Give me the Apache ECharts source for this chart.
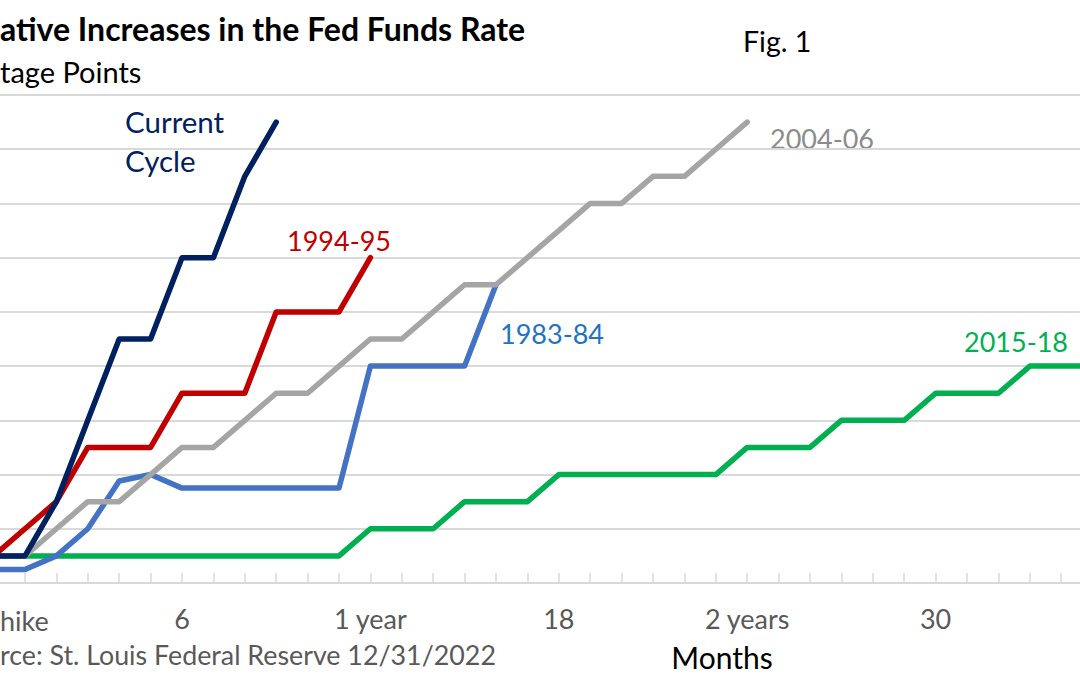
<!DOCTYPE html>
<html>
<head>
<meta charset="utf-8">
<script src="https://cdn.jsdelivr.net/npm/echarts@6/dist/echarts.min.js"></script>
<style>
  html, body { margin: 0; padding: 0; background: #ffffff; }
  #chart { width: 1080px; height: 675px; }
</style>
</head>
<body>
<div id="chart"></div>
<script>
// ---- Data (cumulative increase in percentage points, by month since first hike) ----
const seriesNames = ['2015-18', '1983-84', '2004-06', '1994-95', 'Current Cycle'];
const cycle2015 = [0.25,0.25,0.25,0.25,0.25,0.25,0.25,0.25,0.25,0.25,0.25,0.25,
                   0.5,0.5,0.5,0.75,0.75,0.75,1.0,1.0,1.0,1.0,1.0,1.0,
                   1.25,1.25,1.25,1.5,1.5,1.5,1.75,1.75,1.75,2.0,2.0,2.0,2.25];
const cycle1983 = [0.125,0.125,0.25,0.5,0.94,1.0,0.875,0.875,0.875,0.875,0.875,0.875,
                   2.0,2.0,2.0,2.0,2.75];
const cycle2004 = [0.25,0.25,0.5,0.75,0.75,1.0,1.25,1.25,1.5,1.75,1.75,2.0,
                   2.25,2.25,2.5,2.75,2.75,3.0,3.25,3.5,3.5,3.75,3.75,4.0,4.25];
const cycle1994 = [0.25,0.5,0.75,1.25,1.25,1.25,1.75,1.75,1.75,2.5,2.5,2.5,3.0];
const currentCycle = [0.25,0.25,0.75,1.5,2.25,2.25,3.0,3.0,3.75,4.25];

// x-axis tick labels (month -> label); month 0 label is shown cropped as in the reference
const tickLabels = { 0: 'hike', 6: '6', 12: '1 year', 18: '18', 24: '2 years', 30: '30' };

// Texts as visible in the (cropped) reference
const titleText = 'ative Increases in the Fed Funds Rate';
const subtitleText = 'tage Points';
const sourceText = 'rce: St. Louis Federal Reserve 12/31/2022';
const axisTitle = 'Months';
const figText = 'Fig. 1';

// ---- Styles ----
const FONT = 'Lato, "Open Sans", sans-serif';
const colors = {
  '2015-18': '#00B050',
  '1983-84': '#4472C4',
  '2004-06': '#A5A5A5',
  '1994-95': '#C00000',
  'Current Cycle': '#002060'
};
const allData = [cycle2015, cycle1983, cycle2004, cycle1994, currentCycle];

const toPairs = arr => arr.map((v, i) => [i, v]);

const series = seriesNames.map((name, k) => ({
  name: name,
  type: 'line',
  data: toPairs(allData[k]),
  symbol: 'none',
  smooth: false,
  z: 2 + k,
  lineStyle: { color: colors[name], width: 5.5, cap: 'round', join: 'round' },
  itemStyle: { color: colors[name] },
  animation: false
}));

const chart = echarts.init(document.getElementById('chart'), null, { renderer: 'svg' });

function txt(text, x, y, size, color, align, weight) {
  return {
    type: 'text',
    x: x, y: y,
    silent: true,
    style: {
      text: text,
      fill: color,
      fontSize: size,
      fontFamily: FONT,
      fontWeight: weight || 'normal',
      textAlign: align || 'left',
      align: align || 'left',
      textVerticalAlign: 'middle',
      verticalAlign: 'middle'
    }
  };
}

chart.setOption({
  backgroundColor: '#ffffff',
  animation: false,
  grid: { left: -6.4, right: -44, top: 95, bottom: 92, containLabel: false, outerBoundsMode: 'none' },
  xAxis: {
    type: 'value',
    min: 0, max: 36, interval: 1,
    axisLine: { show: true, lineStyle: { color: '#D9D9D9', width: 2 } },
    axisTick: { show: true, inside: true, length: 10, lineStyle: { color: '#D9D9D9', width: 1.5 } },
    splitLine: { show: false },
    axisLabel: {
      show: true,
      margin: 22,
      fontSize: 27,
      fontFamily: FONT,
      color: '#595959',
      showMinLabel: true,
      showMaxLabel: true,
      hideOverlap: false,
      // month 0 is drawn separately (left-aligned at the cropped edge)
      formatter: v => (v !== 0 && tickLabels[v] !== undefined ? tickLabels[v] : '')
    }
  },
  yAxis: {
    type: 'value',
    min: 0, max: 4.5, interval: 0.5,
    axisLine: { show: false },
    axisTick: { show: false },
    axisLabel: { show: false },
    splitLine: { show: true, lineStyle: { color: '#D9D9D9', width: 2 } }
  },
  series: series,
  graphic: [
    txt(titleText, 0, 28, 32, '#000000', 'left', 'bold'),
    txt(subtitleText, 0, 71, 29, '#000000', 'left'),
    txt(figText, 743, 41, 28.5, '#000000', 'left'),
    txt('Current', 125, 121, 29.5, colors['Current Cycle'], 'left'),
    txt('Cycle', 125, 160, 29.5, colors['Current Cycle'], 'left'),
    txt('1994-95', 339, 240, 27, colors['1994-95'], 'center'),
    txt('2004-06', 770, 138, 27, '#8C8C8C', 'left'),
    txt('1983-84', 500, 333, 27, '#1F74C2', 'left'),
    txt('2015-18', 964, 341, 27, colors['2015-18'], 'left'),
    txt(tickLabels[0], 0, 620, 27, '#595959', 'left'),
    txt(sourceText, 0, 655, 26.8, '#595959', 'left'),
    txt(axisTitle, 722, 657, 30, '#000000', 'center')
  ]
});
</script>
</body>
</html>
